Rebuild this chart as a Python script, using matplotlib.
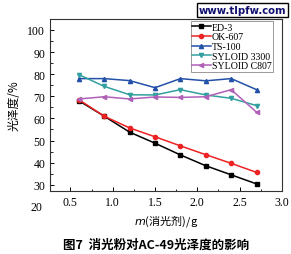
import matplotlib
matplotlib.use("Agg")
import matplotlib.pyplot as plt
from matplotlib.ticker import MultipleLocator

# data
x = [0.6, 0.9, 1.2, 1.5, 1.8, 2.1, 2.4, 2.7]
ed3 = [68.0, 61.0, 53.8, 48.8, 43.5, 38.6, 34.5, 30.4]
ok607 = [68.5, 61.0, 55.7, 51.7, 47.6, 43.6, 39.7, 35.6]
ts100 = [78.0, 78.0, 77.1, 73.9, 78.0, 77.0, 78.0, 73.0]
syl3300 = [79.8, 74.5, 70.7, 70.6, 73.0, 70.6, 69.1, 65.8]
sylc807 = [68.8, 69.8, 68.8, 69.7, 69.5, 69.8, 73.0, 62.8]
names = ["ED-3", "OK-607", "TS-100", "SYLOID 3300", "SYLOID C807"]
colors = ["#000000", "#ee2222", "#2350a8", "#33a0a0", "#b060b8"]
markers = ["s", "o", "^", "v", "<"]
yticks = [30, 40, 50, 60, 70, 80, 90, 100]
xticks = [0.5, 1.0, 1.5, 2.0, 2.5, 3.0]

serif = ["Liberation Serif", "DejaVu Serif"]
cjk = ["Noto Sans CJK SC", "DejaVu Sans"]

fig = plt.figure(figsize=(2.91, 2.55), dpi=100)
ax = fig.add_axes([0.172, 0.248, 0.797, 0.674])

series = [ed3, ok607, ts100, syl3300, sylc807]
for ys, nm, c, m in zip(series, names, colors, markers):
    ax.plot(x, ys, color=c, marker=m, markersize=3.0, linewidth=1.1, label=nm)

ax.set_xlim(0.26, 3.0)
ax.set_ylim(27.3, 105)
ax.set_xticks(xticks)
ax.set_yticks(yticks)
ax.xaxis.set_minor_locator(MultipleLocator(0.25))
ax.yaxis.set_minor_locator(MultipleLocator(5))
ax.tick_params(which="both", direction="in", top=False, right=False)
ax.tick_params(which="major", length=3, width=0.7, labelsize=8.5)
ax.tick_params(which="minor", length=1.8, width=0.6)
ax.set_xticklabels(["%.1f" % t for t in xticks], family=serif)
ax.set_yticklabels([str(t) for t in yticks], family=serif)
for s in ax.spines.values():
    s.set_linewidth(0.8)
    s.set_color("#333333")

# stray "20" label under the axis, as in the original
ax.text(-0.035, 20, "20", transform=ax.get_yaxis_transform(), ha="right",
        va="center", fontsize=8.5, family=serif, clip_on=False)

leg = ax.legend(loc="upper right", bbox_to_anchor=(0.97, 0.997),
                prop={"family": serif, "size": 7.1}, handlelength=1.9,
                handletextpad=0.1, labelspacing=0.06, borderpad=0.15,
                borderaxespad=0.2, fancybox=False, edgecolor="#999999",
                framealpha=1)
leg.get_frame().set_linewidth(0.7)

ax.set_ylabel("光泽度/%", family=cjk, fontsize=8.5, labelpad=5)
ax.set_xlabel("$\\it{m}$(消光剂)/g", family=cjk, fontsize=8, labelpad=3)

fig.text(0.536, 0.04, "图7  消光粉对AC-49光泽度的影响", family=cjk,
         fontsize=9, fontweight="bold", ha="center", va="center")

fig.text(0.833, 0.957, "www.tlpfw.com", fontsize=7.3, fontweight="bold",
         color="#101070", ha="center", va="center",
         bbox=dict(facecolor="white", edgecolor="black", linewidth=1.0, pad=1.2))

fig.savefig("out.png", dpi=100)
